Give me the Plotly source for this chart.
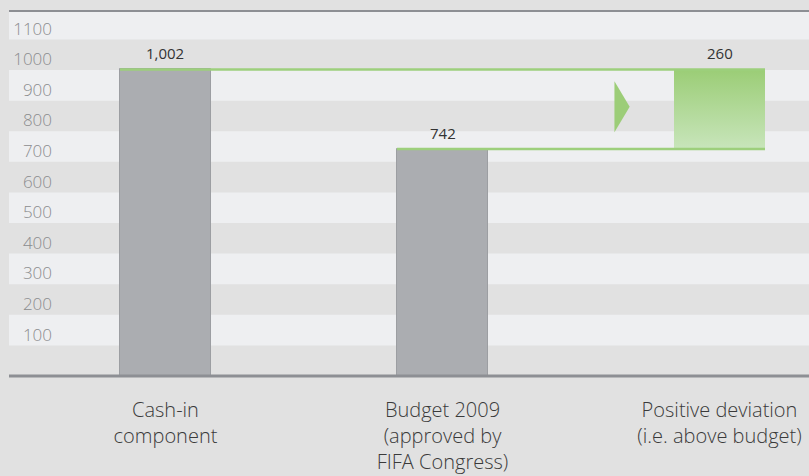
import plotly.graph_objects as go

# ---- data ----
categories = ["Cash-in<br>component",
              "Budget 2009<br>(approved by<br>FIFA Congress)",
              "Positive deviation<br>(i.e. above budget)"]
cash_in = 1002
budget = 742
deviation = cash_in - budget          # 260
bar_values = [cash_in, budget]
value_labels = [cash_in, budget, deviation]
y_tick_values = [100, 200, 300, 400, 500, 600, 700, 800, 900, 1000, 1100]
y_tick_labels = [str(v) for v in y_tick_values]

# ---- style ----
W = 0.3285
GREY_BAR = "#abadb1"
GREEN = "#9dcf7c"
LIGHT_BAND = "#eeeff1"
BG = "#e1e1e1"
AXIS_LINE = "#8d8f94"
FONT = "Open Sans"

fig = go.Figure()

# grey bars
fig.add_trace(go.Bar(
    x=[0, 1], y=bar_values, width=W,
    marker=dict(color=GREY_BAR, line=dict(color="#9c9ea2", width=1)),
    hoverinfo="skip", showlegend=False,
))

# gradient box for the deviation
x0 = 2 - W / 2
x1 = 2 + W / 2
fig.add_trace(go.Scatter(
    x=[x0, x1, x1, x0, x0],
    y=[budget, budget, cash_in, cash_in, budget],
    mode="lines", fill="toself", line=dict(width=0),
    fillgradient=dict(type="vertical",
                      colorscale=[[0, "#c8e5bb"], [1, "#9bcd76"]]),
    hoverinfo="skip", showlegend=False,
))

# green connector lines
fig.add_trace(go.Scatter(
    x=[0 - W / 2, 2 + W / 2], y=[cash_in, cash_in],
    mode="lines", line=dict(color=GREEN, width=2.5),
    hoverinfo="skip", showlegend=False,
))
fig.add_trace(go.Scatter(
    x=[1 - W / 2, 2 + W / 2], y=[budget, budget],
    mode="lines", line=dict(color=GREEN, width=2.5),
    hoverinfo="skip", showlegend=False,
))

shapes = []
# alternating light bands (every other 100 step)
for lo in range(100, 1200, 200):
    shapes.append(dict(type="rect", xref="paper", yref="y",
                       x0=0, x1=1, y0=lo, y1=lo + 100,
                       fillcolor=LIGHT_BAND, line=dict(width=0), layer="below"))
# top and bottom rules
shapes.append(dict(type="line", xref="paper", yref="paper", x0=0, x1=1, y0=1, y1=1,
                   line=dict(color=AXIS_LINE, width=2), layer="above"))
shapes.append(dict(type="line", xref="paper", yref="paper", x0=0, x1=1, y0=0, y1=0,
                   line=dict(color=AXIS_LINE, width=3), layer="above"))
# arrow pointing at the deviation box
mid = (budget + cash_in) / 2 + 8
tip = x0 - 0.16
base = tip - 0.055
shapes.append(dict(type="path", xref="x", yref="y",
                   path=f"M {base} {mid + 83} L {tip} {mid} L {base} {mid - 83} Z",
                   fillcolor="#9ccd78", line=dict(width=0), layer="above"))

annotations = []
tops = [cash_in, budget, cash_in]
for i, (v, t) in enumerate(zip(value_labels, tops)):
    annotations.append(dict(x=i, y=t, xref="x", yref="y", text=f"{v:,}",
                            showarrow=False, yanchor="bottom", yshift=4,
                            font=dict(family=FONT, size=15, color="#333333")))

fig.update_layout(
    width=809, height=476,
    margin=dict(l=9, r=0, t=11, b=100),
    paper_bgcolor=BG, plot_bgcolor="rgba(0,0,0,0)",
    shapes=shapes, annotations=annotations,
    bargap=0, showlegend=False,
    xaxis=dict(domain=[0.055, 1], range=[-0.4061, 2.3231],
               tickvals=[0, 1, 2], ticktext=categories,
               showgrid=False, zeroline=False, showline=False, ticks="",
               ticklabelstandoff=20,
               tickfont=dict(family=FONT, size=20, color="#3a3a3a", weight=300)),
    yaxis=dict(range=[0, 1193], tickvals=[v + 35 for v in y_tick_values],
               ticktext=y_tick_labels,
               showgrid=False, zeroline=False, showline=False, ticks="",
               tickfont=dict(family=FONT, size=17, color="#8b8c8e", weight=300)),
)

fig.write_html("out.html",
               config={"displayModeBar": False},
               post_script="document.body.style.margin='0';document.body.style.overflow='hidden';")
